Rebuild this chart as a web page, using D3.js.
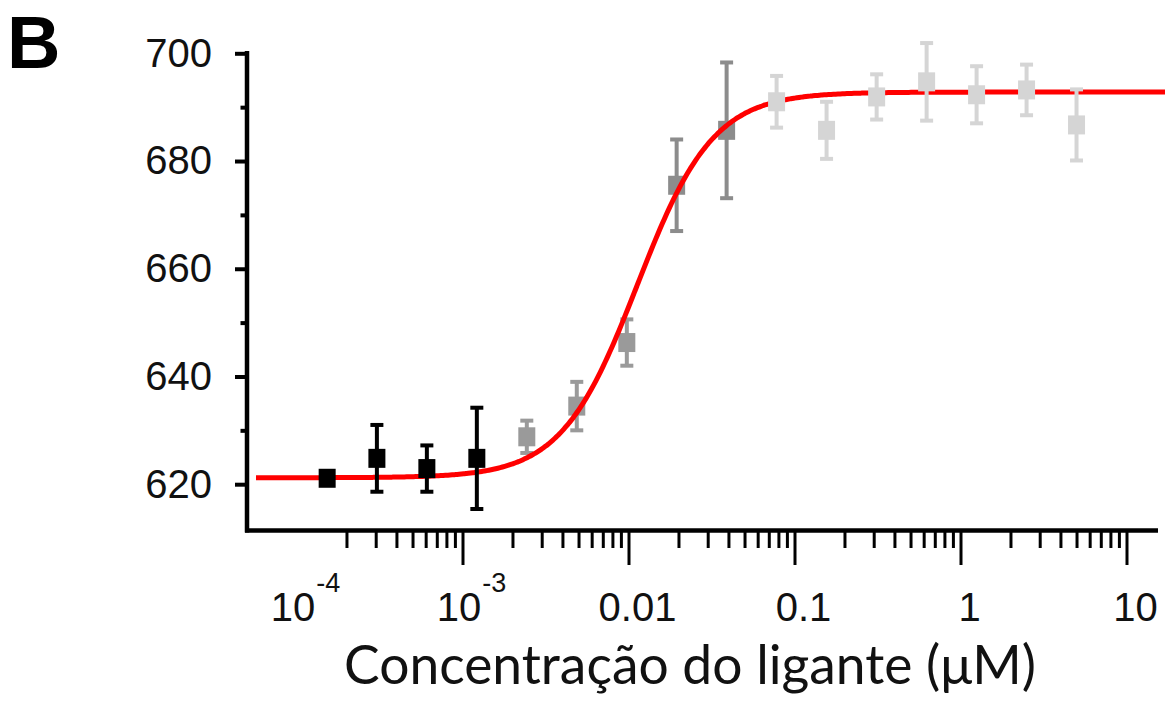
<!DOCTYPE html>
<html>
<head>
<meta charset="utf-8">
<script src="https://cdn.jsdelivr.net/npm/d3@7"></script>
<style>
  html, body { margin: 0; padding: 0; background: #fff; }
  svg { display: block; }
</style>
</head>
<body>
<svg id="chart" width="1165" height="717"></svg>
<script>
// ---------------- data ----------------
const concentrations = [0.000153, 0.000305, 0.00061, 0.00122, 0.00244, 0.00488, 0.00977, 0.0195, 0.039, 0.078, 0.156, 0.3125, 0.625, 1.25, 2.5, 5];
const values        = [621.1, 624.8, 622.9, 624.8, 628.8, 634.5, 646.3, 675.5, 685.7, 691.0, 685.7, 691.9, 694.7, 692.3, 693.2, 686.7];
const errors        = [1.2, 6.2, 4.3, 9.4, 3.0, 4.5, 4.3, 8.5, 12.6, 4.8, 5.3, 4.2, 7.2, 5.3, 4.7, 6.6];
const groups        = ["black", "black", "black", "black", "mid", "mid", "mid", "dark", "dark", "light", "light", "light", "light", "light", "light", "light"];

// fitted dose-response curve parameters: [bottom, top, EC50 (µM), Hill slope]
const fitParams = [621.2, 692.8, 0.0113, 1.9];
const fitRange  = [5.7e-5, 18];

const yMajorTicks = [620, 640, 660, 680, 700];
const yMinorTicks = [630, 650, 670, 690];
const xMajorTicks = [1e-3, 1e-2, 1e-1, 1, 10];
const xMinorTicks = [2e-4,3e-4,4e-4,5e-4,6e-4,7e-4,8e-4,9e-4,
                     2e-3,3e-3,4e-3,5e-3,6e-3,7e-3,8e-3,9e-3,
                     2e-2,3e-2,4e-2,5e-2,6e-2,7e-2,8e-2,9e-2,
                     0.2,0.3,0.4,0.5,0.6,0.7,0.8,0.9,
                     2,3,4,5,6,7,8,9];
const xTickLabels = [
  {v: 1e-4, base: "10", sup: "-4"},
  {v: 1e-3, base: "10", sup: "-3"},
  {v: 1e-2, base: "0.01", sup: ""},
  {v: 1e-1, base: "0.1", sup: ""},
  {v: 1,    base: "1", sup: ""},
  {v: 10,   base: "10", sup: ""}
];
const xTitle = "Concentração do ligante (μM)";
const panelLabel = "B";

(function () {
// ---------------- styles ----------------
const groupColor = {black: "#000000", mid: "#9a9a9a", dark: "#8c8c8c", light: "#d5d5d5"};

// ---------------- scales ----------------
const svg = d3.select("#chart");
const x = d3.scaleLog().domain([1e-4, 10]).range([296.5, 1126.5]);
const y = d3.scaleLinear().domain([620, 700]).range([484.2, 53.3]);
const axisX0 = 247, axisY0 = 530.5;

// ---------------- panel label ----------------
svg.append("text").attr("x", 7).attr("y", 67.5)
  .attr("font-family", "Liberation Sans, Arial, sans-serif")
  .attr("font-weight", "bold").attr("font-size", 74).text(panelLabel);

// ---------------- axes ----------------
const font = "Liberation Sans, Arial, Helvetica, sans-serif";

// y axis
const gy = svg.append("g").attr("transform", `translate(${axisX0},0)`);
gy.call(d3.axisLeft(y).tickValues(yMajorTicks).tickSize(12).tickPadding(23).tickFormat(d3.format("d")));
gy.select(".domain").remove();
gy.selectAll(".tick line").attr("stroke", "#000").attr("stroke-width", 4);
gy.selectAll(".tick text").attr("font-family", font).attr("font-size", 40).attr("fill", "#111");
const gyMinor = svg.append("g").attr("transform", `translate(${axisX0},0)`);
gyMinor.call(d3.axisLeft(y).tickValues(yMinorTicks).tickSize(6.5).tickFormat(""));
gyMinor.select(".domain").remove();
gyMinor.selectAll(".tick line").attr("stroke", "#000").attr("stroke-width", 4);

// x axis
const gx = svg.append("g").attr("transform", `translate(0,${axisY0})`);
gx.call(d3.axisBottom(x).tickValues(xMajorTicks).tickSize(34.5).tickFormat(""));
gx.select(".domain").remove();
gx.selectAll(".tick line").attr("stroke", "#000").attr("stroke-width", 3);
const gxMinor = svg.append("g").attr("transform", `translate(0,${axisY0})`);
gxMinor.call(d3.axisBottom(x).tickValues(xMinorTicks).tickSize(17.5).tickFormat(""));
gxMinor.select(".domain").remove();
gxMinor.selectAll(".tick line").attr("stroke", "#000").attr("stroke-width", 3);

// axis lines
svg.append("line").attr("x1", axisX0).attr("x2", axisX0).attr("y1", 51).attr("y2", axisY0 + 2)
  .attr("stroke", "#000").attr("stroke-width", 4.5);
svg.append("line").attr("x1", axisX0 - 2).attr("x2", 1158).attr("y1", axisY0).attr("y2", axisY0)
  .attr("stroke", "#000").attr("stroke-width", 4.5);

// x tick labels
const xl = svg.append("g");
xTickLabels.forEach(t => {
  const txt = xl.append("text").attr("x", x(t.v) + 9).attr("y", 621)
    .attr("text-anchor", "middle").attr("font-family", font).attr("font-size", 40).attr("fill", "#111");
  txt.append("tspan").text(t.base);
  if (t.sup) txt.append("tspan").attr("font-size", 27).attr("dy", -29).attr("dx", 1).text(t.sup);
});

// x title
const title = svg.append("text").attr("x", 690).attr("y", 684).attr("text-anchor", "middle")
  .attr("font-family", "Lato, 'Open Sans', sans-serif").attr("font-size", 50).attr("fill", "#111").text(xTitle);
const w = title.node().getComputedTextLength();
title.attr("font-size", 50 * 692 / w);

// ---------------- points ----------------
const pts = concentrations.map((c, i) => ({c, v: values[i], e: errors[i], g: groups[i]}));
const boxW = 17, boxH = 19, capW = 13;

function drawPoints(sel) {
  const g = svg.append("g");
  const p = g.selectAll("g.pt").data(sel).enter().append("g").attr("class", "pt");
  p.append("line").attr("x1", d => x(d.c)).attr("x2", d => x(d.c))
    .attr("y1", d => y(d.v + d.e)).attr("y2", d => y(d.v - d.e))
    .attr("stroke", d => groupColor[d.g]).attr("stroke-width", 4);
  p.append("line").attr("x1", d => x(d.c) - capW / 2).attr("x2", d => x(d.c) + capW / 2)
    .attr("y1", d => y(d.v + d.e)).attr("y2", d => y(d.v + d.e))
    .attr("stroke", d => groupColor[d.g]).attr("stroke-width", 4);
  p.append("line").attr("x1", d => x(d.c) - capW / 2).attr("x2", d => x(d.c) + capW / 2)
    .attr("y1", d => y(d.v - d.e)).attr("y2", d => y(d.v - d.e))
    .attr("stroke", d => groupColor[d.g]).attr("stroke-width", 4);
  p.append("rect").attr("x", d => x(d.c) - boxW / 2).attr("y", d => y(d.v) - boxH / 2)
    .attr("width", boxW).attr("height", boxH).attr("fill", d => groupColor[d.g]);
}

// grey points lie under the fit curve
drawPoints(pts.filter(d => d.g === "mid" || d.g === "dark"));

// ---------------- fit curve ----------------
const [fBottom, fTop, fEc50, fHill] = fitParams;
const fitX = d3.range(0, 401).map(i => Math.pow(10, Math.log10(fitRange[0]) + i / 400 * (Math.log10(fitRange[1]) - Math.log10(fitRange[0]))));
const fitData = fitX.map(c => ({c, v: fBottom + (fTop - fBottom) / (1 + Math.pow(fEc50 / c, fHill))}));
svg.append("path").datum(fitData)
  .attr("d", d3.line().x(d => x(d.c)).y(d => y(d.v)).curve(d3.curveMonotoneX))
  .attr("fill", "none").attr("stroke", "#ff0000").attr("stroke-width", 5);

// black and light points on top of the curve
drawPoints(pts.filter(d => d.g === "black" || d.g === "light"));
})();
</script>
</body>
</html>
